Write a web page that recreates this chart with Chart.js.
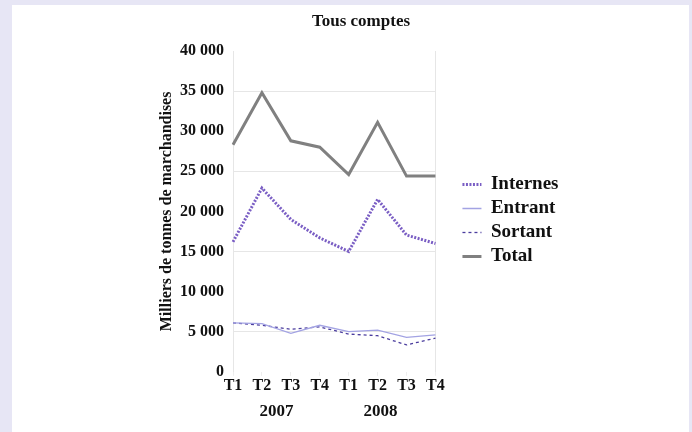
<!DOCTYPE html>
<html><head><meta charset="utf-8">
<script src="https://cdn.jsdelivr.net/npm/chart.js@4.4.0/dist/chart.umd.min.js"></script>
<style>
html,body{margin:0;padding:0;width:692px;height:432px;overflow:hidden;background:#e7e6f5;}
#panel{position:absolute;left:12px;top:5px;width:677px;height:440px;background:#fff;}
#wrap{position:absolute;left:0;top:0;width:692px;height:432px;}
</style></head>
<body>
<div id="panel"></div>
<div id="wrap"><canvas id="c" width="692" height="432"></canvas></div>
<script>
const quarters = ['T1','T2','T3','T4','T1','T2','T3','T4'];
const years = ['2007','2008'];
const internes = [16200, 22900, 19000, 16700, 15000, 21500, 17050, 16000];
const entrant  = [6100, 6000, 4800, 5800, 5000, 5200, 4300, 4600];
const sortant  = [6100, 5800, 5300, 5600, 4700, 4500, 3350, 4200];
const total    = [28300, 34800, 28800, 28000, 24600, 31100, 24400, 24400];
const yTicks = [0, 5000, 10000, 15000, 20000, 25000, 30000, 35000, 40000];

const FONT = "'Liberation Serif','Times New Roman',serif";

const yearPlugin = {
  id: 'years',
  afterDraw(chart) {
    const x = chart.scales.x;
    const ctx = chart.ctx;
    ctx.save();
    ctx.font = 'bold 17px ' + FONT;
    ctx.fillStyle = '#111';
    ctx.textAlign = 'center';
    ctx.textBaseline = 'middle';
    const step = x.getPixelForValue(1) - x.getPixelForValue(0);
    const p2007 = (x.getPixelForValue(1) + x.getPixelForValue(2)) / 2;
    const p2008 = x.getPixelForValue(5) + step * 0.1;
    ctx.fillText(years[0], p2007, 412);
    ctx.fillText(years[1], p2008, 412);
    ctx.restore();
  }
};

// let the legend take its natural width instead of the default cap
const legendWidthPlugin = {
  id: 'legendWidth',
  beforeLayout(chart) {
    const lg = chart.legend;
    if (lg && !lg._natFit) {
      const f = lg.fit;
      lg.fit = function () { const m = this.maxWidth; this.maxWidth = 10000; f.call(this); this.maxWidth = m; };
      lg._natFit = true;
    }
  }
};

new Chart(document.getElementById('c'), {
  type: 'line',
  data: {
    labels: quarters,
    datasets: [
      {label:'Internes', data: internes, borderColor:'#7a5ec4', backgroundColor:'#7a5ec4', borderWidth:3, borderDash:[2,1.5], pointRadius:0, tension:0},
      {label:'Entrant', data: entrant, borderColor:'#a3a3e3', backgroundColor:'#a3a3e3', borderWidth:1.3, pointRadius:0, tension:0},
      {label:'Sortant', data: sortant, borderColor:'#4b3d9e', backgroundColor:'#4b3d9e', borderWidth:1.3, borderDash:[3,3], pointRadius:0, tension:0},
      {label:'Total', data: total, borderColor:'#808080', backgroundColor:'#808080', borderWidth:3, pointRadius:0, tension:0}
    ]
  },
  options: {
    responsive: false,
    animation: false,
    layout: { padding: { left: 153.5, right: 123.5, top: 0, bottom: 37 } },
    plugins: {
      title: { display: true, text: 'Tous comptes', color:'#111', font: { family: FONT, size: 17, weight: 'bold' }, padding: { top: 11, bottom: 19.6 } },
      legend: {
        position: 'right',
        title: { display: true, text: '', font: { size: 10 }, padding: { top: 34, bottom: 0 } },
        labels: {
          color:'#111', font: { family: FONT, size: 19, weight: 'bold' },
          usePointStyle: true, pointStyle: 'line', pointStyleWidth: 19, padding: 5,
          generateLabels: (chart) => chart.data.datasets.map((ds, i) => ({
            text: ds.label,
            datasetIndex: i,
            hidden: false,
            fontColor: '#111',
            fillStyle: ds.borderColor,
            strokeStyle: ds.borderColor,
            lineWidth: ds.borderWidth,
            lineDash: ds.borderDash || [],
            lineCap: 'butt',
            pointStyle: 'line'
          }))
        }
      },
      tooltip: { enabled: false }
    },
    scales: {
      x: {
        offset: false,
        grid: {
          color: (c) => (c.index === 0 || c.index === quarters.length - 1) ? '#e6e6e6' : 'rgba(0,0,0,0)',
          tickColor: '#eeeeee', tickLength: 4, drawOnChartArea: true
        },
        border: { display: false },
        ticks: { color:'#111', font: { family: FONT, size: 16, weight: 'bold' }, padding: 0, maxRotation: 0, autoSkip: false }
      },
      y: {
        min: 0, max: 40000,
        afterBuildTicks: (s) => { s.ticks = yTicks.map(v => ({ value: v })); },
        afterFit: (s) => { s.width = 79.5; },
        grid: {
          color: (c) => (c.tick && c.tick.value % 10000 === 5000) ? '#e6e6e6' : 'rgba(0,0,0,0)',
          drawTicks: false
        },
        border: { display: false },
        ticks: {
          color:'#111', padding: 9,
          font: { family: FONT, size: 16, weight: 'bold' },
          callback: (v) => v === 0 ? '0' : String(v).replace(/\B(?=(\d{3})+(?!\d))/g, '\u00a0')
        },
        title: { display: true, text: 'Milliers de tonnes de marchandises', color:'#111', font: { family: FONT, size: 16, weight: 'bold' }, padding: { top: 4, bottom: 0 } }
      },
      y2: {
        position: 'right',
        display: true,
        grid: { display: false },
        border: { display: false },
        ticks: { display: false },
        afterFit: (s) => { s.width = 22; }
      }
    }
  },
  plugins: [yearPlugin, legendWidthPlugin]
});
</script>
</body></html>
